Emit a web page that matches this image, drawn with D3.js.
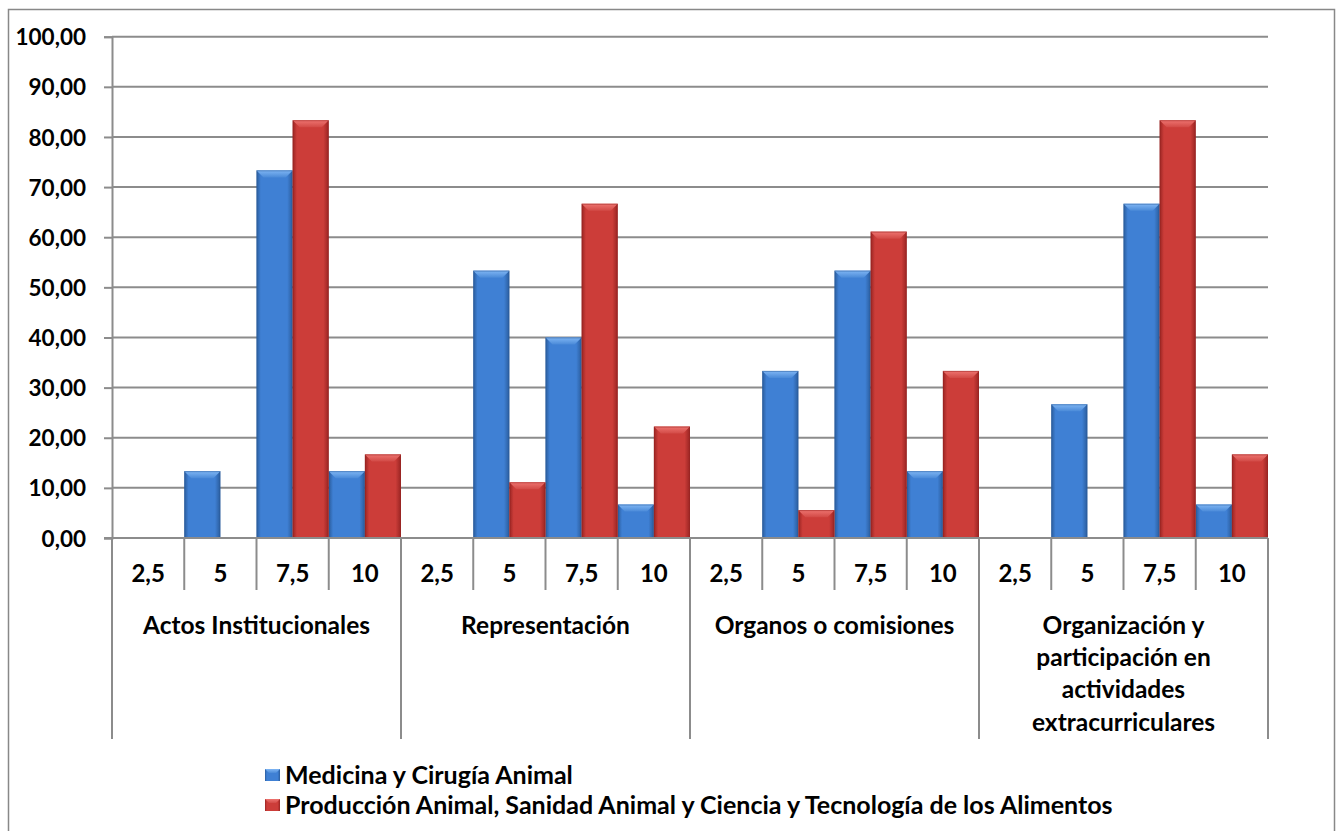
<!DOCTYPE html>
<html><head><meta charset="utf-8">
<script src="https://cdn.jsdelivr.net/npm/d3@7"></script>
<style>body{margin:0;background:#fff}svg{display:block}text{font-family:Lato,"Open Sans",sans-serif;font-weight:bold;fill:#000}</style>
</head><body><svg id="c" width="1337" height="831"></svg>
<script>
const groups = ["Actos Institucionales","Representación","Organos o comisiones","Organización y participación en actividades extracurriculares"];
const subcats = ["2,5","5","7,5","10"];
const seriesNames = ["Medicina y Cirugía Animal","Producción Animal, Sanidad Animal y Ciencia y Tecnología de los Alimentos"];
const medicina = [0,13.33,73.33,13.33, 0,53.33,40,6.67, 0,33.33,53.33,13.33, 0,26.67,66.67,6.67];
const produccion = [0,0,83.33,16.67, 0,11.11,66.67,22.22, 0,5.56,61.11,33.33, 0,0,83.33,16.67];
const yTicks = [0,10,20,30,40,50,60,70,80,90,100];

const svg = d3.select("#c");
const L=112, R=1268, T=36.7, B=538;
const fmt = v => d3.format(".2f")(v).replace(".", ",");
const slots = [];
groups.forEach((g,gi)=>subcats.forEach((s,si)=>slots.push({g:gi,s:si,label:s,key:gi+"_"+si})));
const x = d3.scaleBand().domain(slots.map(d=>d.key)).range([L,R]).paddingInner(0).paddingOuter(0);
const x1 = d3.scaleBand().domain([0,1]).range([0,x.bandwidth()]).padding(0);
const y = d3.scaleLinear().domain([0,100]).range([B,T]);

svg.append("rect").attr("x",8.5).attr("y",9.5).attr("width",1326).attr("height",840).attr("fill","none").attr("stroke","#888").attr("stroke-width",1.5);

const defs = svg.append("defs");
const pal = [
  {id:"gb", edge:"#2a5c9c", mid:"#3f80d4", top:"#80b6f4", topEdge:"#4a8ad8"},
  {id:"gr", edge:"#982422", mid:"#cc3d39", top:"#ee7470", topEdge:"#d24a46"}
];
pal.forEach(p=>{
  const lg = defs.append("linearGradient").attr("id",p.id).attr("x1","0").attr("x2","1").attr("y1","0").attr("y2","0");
  lg.append("stop").attr("offset","0").attr("stop-color",p.edge);
  lg.append("stop").attr("offset","0.12").attr("stop-color",p.mid);
  lg.append("stop").attr("offset","0.85").attr("stop-color",p.mid);
  lg.append("stop").attr("offset","1").attr("stop-color",p.edge);
  const tg = defs.append("linearGradient").attr("id",p.id+"t").attr("x1","0").attr("x2","0").attr("y1","0").attr("y2","1");
  tg.append("stop").attr("offset","0").attr("stop-color",p.top);
  tg.append("stop").attr("offset","1").attr("stop-color",p.topEdge);
});

const grid = svg.append("g");
yTicks.forEach(t=>{
  grid.append("line").attr("x1",L).attr("x2",R).attr("y1",y(t)).attr("y2",y(t)).attr("stroke","#8c8c8c").attr("stroke-width",2);
});

const yAxis = d3.axisLeft(y).tickValues(yTicks).tickFormat(fmt).tickSize(8).tickPadding(18);
const yg = svg.append("g").attr("transform",`translate(${L},0)`).call(yAxis);
yg.select(".domain").attr("stroke","#8c8c8c").attr("stroke-width",2);
yg.selectAll(".tick line").attr("stroke","#8c8c8c").attr("stroke-width",2);
yg.selectAll(".tick text").attr("font-size",22.5).attr("font-family","Lato").attr("font-weight","bold").attr("fill","#000").attr("dy","0.36em");

const series = [medicina, produccion];
const barsG = svg.append("g");
series.forEach((vals,si)=>{
  const p = pal[si];
  slots.forEach((sl,i)=>{
    const v = vals[i]; if(!v) return;
    const bx = x(sl.key)+x1(si), bw = x1.bandwidth(), by = y(v), bh = y(0)-y(v);
    barsG.append("rect").attr("x",bx).attr("y",by).attr("width",bw).attr("height",bh).attr("fill",`url(#${p.id})`);
    const b = Math.min(7,bh);
    barsG.append("polygon").attr("points",[[bx,by],[bx+bw,by],[bx+bw-b,by+b],[bx+b,by+b]].map(q=>q.join(",")).join(" ")).attr("fill",`url(#${p.id}t)`);
    barsG.append("rect").attr("x",bx+0.5).attr("y",by+0.5).attr("width",bw-1).attr("height",bh-1).attr("fill","none").attr("stroke",p.edge).attr("stroke-opacity",0.5).attr("stroke-width",1);
  });
});

const xg = svg.append("g");
xg.append("line").attr("x1",L-8).attr("x2",R).attr("y1",B).attr("y2",B).attr("stroke","#8c8c8c").attr("stroke-width",2);
const bounds = x.domain().map(k=>x(k)).concat([R]);
bounds.forEach((bx,i)=>{
  const isGroup = i%4===0;
  xg.append("line").attr("x1",bx).attr("x2",bx).attr("y1",B).attr("y2",isGroup?739:590).attr("stroke","#8c8c8c").attr("stroke-width",2);
});
slots.forEach(sl=>{
  xg.append("text").attr("x",x(sl.key)+x.bandwidth()/2).attr("y",573).attr("dy","0.36em").attr("text-anchor","middle").attr("font-size",24).text(sl.label);
});
const gw = x.bandwidth()*4;
groups.forEach((g,gi)=>{
  const cx = L+gw*gi+gw/2;
  const t = xg.append("text").attr("text-anchor","middle").attr("font-size",24.5);
  const words = g.split(" ");
  let lines=[], cur=[];
  words.forEach(w=>{
    const test = cur.concat([w]).join(" ");
    t.text(test);
    if(t.node().getComputedTextLength()>272 && cur.length){lines.push(cur.join(" ")); cur=[w];} else cur.push(w);
  });
  lines.push(cur.join(" "));
  t.text(null);
  lines.forEach((ln,li)=>t.append("tspan").attr("x",cx).attr("y",625+li*32.3).attr("dy","0.36em").text(ln));
});

const lg = svg.append("g");
seriesNames.forEach((n,i)=>{
  const yy = 775+i*30;
  const p = pal[i];
  lg.append("rect").attr("x",265).attr("y",yy-6).attr("width",15).attr("height",12).attr("fill",`url(#${p.id})`);
  lg.append("polygon").attr("points",`265,${yy-6} 280,${yy-6} 276,${yy-2} 269,${yy-2}`).attr("fill",`url(#${p.id}t)`);
  lg.append("text").attr("x",285).attr("y",yy).attr("dy","0.36em").attr("font-size",25).text(n);
});
</script></body></html>
